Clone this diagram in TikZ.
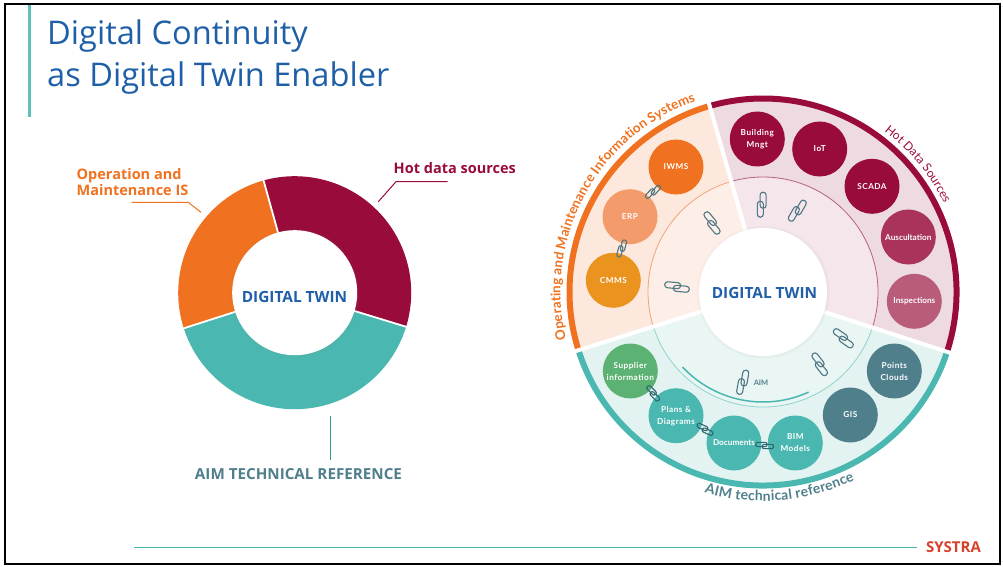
\documentclass[tikz,border=0pt]{standalone}
\usepackage{fontspec}
\setmainfont{Open Sans}
\newfontfamily\latofont{Lato}
\newfontfamily\latospaced{Lato}[LetterSpace=6]
\usetikzlibrary{decorations.text,shadows}
\definecolor{maroon}{HTML}{990B3A}
\definecolor{maroonA}{HTML}{A9335A}
\definecolor{maroonB}{HTML}{B85C7A}
\definecolor{maroonLight}{HTML}{EEDBE2}
\definecolor{maroonPale}{HTML}{F4E6EB}
\definecolor{maroonRing}{HTML}{B8607F}
\definecolor{orange}{HTML}{F0711F}
\definecolor{orangeA}{HTML}{F49B6C}
\definecolor{orangeB}{HTML}{EB931F}
\definecolor{orangeLight}{HTML}{FCE8DC}
\definecolor{orangePale}{HTML}{FDEFE7}
\definecolor{orangeRing}{HTML}{F0A47A}
\definecolor{teal}{HTML}{4AB8B0}
\definecolor{tealLight}{HTML}{E3F3F1}
\definecolor{tealPale}{HTML}{EAF6F4}
\definecolor{tealRing}{HTML}{8FD3CC}
\definecolor{tealLine}{HTML}{2E9C93}
\definecolor{slate}{HTML}{507F8C}
\definecolor{leaf}{HTML}{5BB272}
\definecolor{titleBlue}{HTML}{1F5FA8}
\definecolor{barTeal}{HTML}{5FC0B5}
\definecolor{footTeal}{HTML}{45B5A8}
\definecolor{logoRed}{HTML}{D9412B}
\definecolor{chain}{HTML}{4F7684}
\definecolor{chainDark}{HTML}{2F6670}
\tikzset{pics/chainlink/.style={code={
        \draw[line width=1.1pt,rounded corners=#1*2.9pt] ({-12.5*#1},{-1.6*#1}) rectangle ({3.5*#1},{4.4*#1});
        \draw[line width=1.1pt,rounded corners=#1*2.9pt] ({-3.5*#1},{-4.4*#1}) rectangle ({12.5*#1},{1.6*#1});
}}}
\begin{document}
\begin{tikzpicture}
        [x=1pt,y=1pt,
        circ/.style={circle,minimum size=55pt,inner sep=0pt,align=center,text=white,font=\latospaced\bfseries\fontsize{8.2}{12}\selectfont},
        hub/.style={circle,fill=white,inner sep=0pt,circular drop shadow={shadow xshift=0pt,shadow yshift=0pt,shadow scale=1.05,opacity=.22}},
        hubtext/.style={text=titleBlue,font=\bfseries\fontsize{15.4}{17}\selectfont,anchor=base},
        side/.style={font=\bfseries\fontsize{14.5}{17}\selectfont,anchor=base west,align=left,inner sep=0pt},
        leader/.style={line width=1pt}]
        \useasboundingbox (0,0) rectangle (1003,566);
        \draw[line width=2pt] (5,2) rectangle (1000,561.5);
        \coordinate (lc) at (294.7,273.3);
        \coordinate (rc) at (763,274);

        % header and footer
        \fill[barTeal] (28,449) rectangle (31,561);
        \node[text=titleBlue,font=\fontsize{32.6}{42}\selectfont,anchor=base west,align=left,inner sep=0pt] (title) at (47,521) {Digital Continuity};
        \node[text=titleBlue,font=\fontsize{32.6}{42}\selectfont,anchor=base west,inner sep=0pt] (title2) at (47,479.5) {as Digital Twin Enabler};
        \coordinate (footL) at (134,18.5);
        \coordinate (footR) at (917,18.5);
        \draw[footTeal,line width=1.4pt] (footL) -- (footR);
        \node[text=logoRed,font=\bfseries\fontsize{15}{16}\selectfont,inner sep=0pt] (logo) at (953.5,18.5) {SYSTRA};

        % left donut
        \foreach \a/\b/\c in {-17/105.5/maroon,105.5/197.8/orange,197.8/343/teal}
            \fill[\c] (lc) -- ++(\a:116.5pt) arc[start angle=\a,end angle=\b,radius=116.5pt] -- cycle;
        \foreach \a in {-17,105.5,197.8}
            \draw[white,line width=1.8pt] (lc) -- ++(\a:118pt);
        \node[hub,minimum size=125pt] (hubL) at (lc) {};
        \node[hubtext] (hubLtext) at (294.5,264) {DIGITAL TWIN};

        \node[side,text=maroon] (hot) at (393.5,392) {Hot data sources};
        \node[side,text=orange] (ops) at (76.5,386.5) {Operation and};
        \node[side,text=orange] (ops2) at (76.5,370.5) {Maintenance IS};
        \node[side,text=slate,anchor=base,font=\bfseries\fontsize{15.2}{17}\selectfont] (aim) at (298.5,86.7) {AIM TECHNICAL REFERENCE};
        \coordinate (hotA) at (378.3,364.3);
        \coordinate (hotB) at (396,384.3);
        \coordinate (hotC) at (447.7,384.3);
        \coordinate (opsA) at (201,353.7);
        \coordinate (opsB) at (188.3,363.7);
        \coordinate (opsC) at (131.7,363.7);
        \coordinate (aimA) at (330,150.3);
        \coordinate (aimB) at (330,106);
        \draw[leader,maroon] (hotA) -- (hotB) -- (hotC);
        \draw[leader,orange] (opsA) -- (opsB) -- (opsC);
        \draw[leader,tealLine] (aimA) -- (aimB);

        % right wheel
        \foreach \a/\b/\cl/\cp/\cr/\cb in {-18/106/maroonLight/maroonPale/maroonRing/maroon,
                106/197.5/orangeLight/orangePale/orangeRing/orange,
                197.5/342/tealLight/tealPale/tealRing/teal}{
            \fill[\cl] (rc) -- ++(\a:193pt) arc[start angle=\a,end angle=\b,radius=193pt] -- cycle;
            \fill[\cp] (rc) -- ++(\a:115pt) arc[start angle=\a,end angle=\b,radius=115pt] -- cycle;
            \draw[\cr,line width=.8pt] (rc) ++(\a:115pt) arc[start angle=\a,end angle=\b,radius=115pt];
            \draw[\cb,line width=6pt] (rc) ++(\a:193.5pt) arc[start angle=\a,end angle=\b,radius=193.5pt];
        }
        \foreach \a in {-18,106,197.5}
            \draw[white,line width=4pt] (rc) -- ++(\a:199pt);
        \draw[teal,line width=1.5pt] (rc) ++(223:110pt) arc[start angle=223,end angle=294.5,radius=110pt];
        \node[hub,minimum size=128pt] (hubR) at (rc) {};
        \node[hubtext] (hubRtext) at (764.5,267.7) {DIGITAL TWIN};

        \node[circ,fill=orange] (iwms) at (676,399) {IWMS};
        \node[circ,fill=orangeA] (erp) at (630,349.3) {ERP};
        \node[circ,fill=orangeB] (cmms) at (613.3,285.7) {CMMS};
        \node[circ,fill=maroon] (building) at (757.3,427) {Building\\Mngt};
        \node[circ,fill=maroon] (iot) at (819.7,417) {IoT};
        \node[circ,fill=maroon] (scada) at (872,379.7) {SCADA};
        \node[circ,fill=maroonA] (ausc) at (908.3,329) {\latofont Auscultation};
        \node[circ,fill=maroonB] (insp) at (914.3,264.7) {\latofont Inspections};
        \node[circ,fill=slate] (points) at (894.3,195) {Points\\Clouds};
        \node[circ,fill=slate] (gis) at (850.3,151) {GIS};
        \node[circ,fill=teal] (bim) at (795.3,123) {BIM\\Models};
        \node[circ,fill=teal] (docs) at (734,123) {\latofont Documents};
        \node[circ,fill=teal] (plans) at (676,150.3) {Plans \&\\Diagrams};
        \node[circ,fill=leaf] (supplier) at (630.3,195) {Supplier\\information};

        % links between the circles
        \path (iwms) -- pic[pos=.5,sloped,color=chain] {chainlink=.72} (erp);
        \path (erp) -- pic[pos=.5,sloped,color=chain] {chainlink=.72} (cmms);
        \path (supplier) -- pic[pos=.5,sloped,color=chainDark] {chainlink=.72} (plans);
        \path (plans) -- pic[pos=.5,sloped,color=chainDark] {chainlink=.72} (docs);
        \path (docs) -- pic[pos=.5,sloped,color=chainDark,yshift=-2.5pt] {chainlink=.72} (bim);

        % links in the inner ring
        \foreach \x/\y/\r in {761.7/361.3/90,797.3/355.3/60,712/343/130,677/279/-5,843.3/227.7/-35,819.7/201.7/-52,742.7/183.7/80}
            \pic[rotate=\r,color=chain] at (\x,\y) {chainlink=1};
        \node[text=slate,font=\latofont\bfseries\fontsize{7.5}{9}\selectfont,inner sep=0pt] (aimtag) at (761,183.3) {AIM};

        % texts on the rim
        \path[decorate,decoration={text along path,text color=orange,text align={fit to path},
                text={|\latofont\bfseries\fontsize{13.4}{15}\selectfont|Operating and Maintenance Information Systems}}]
                (rc) ++(193.5:202.5pt) arc[start angle=193.5,end angle=109.5,radius=202.5pt];
        \path[decorate,decoration={text along path,text color=maroon,text align={fit to path},
                text={|\latofont\fontsize{12}{14}\selectfont|Hot Data Sources}}]
                (rc) ++(53:201.5pt) arc[start angle=53,end angle=26,radius=201.5pt];
        \path[decorate,decoration={text along path,text color=slate,text align={fit to path},
                text={|\latofont\bfseries\fontsize{14}{15}\selectfont|AIM technical reference}}]
                (rc) ++(253.7:209pt) arc[start angle=253.7,end angle=296,radius=209pt];
    \end{tikzpicture}
\end{document}
